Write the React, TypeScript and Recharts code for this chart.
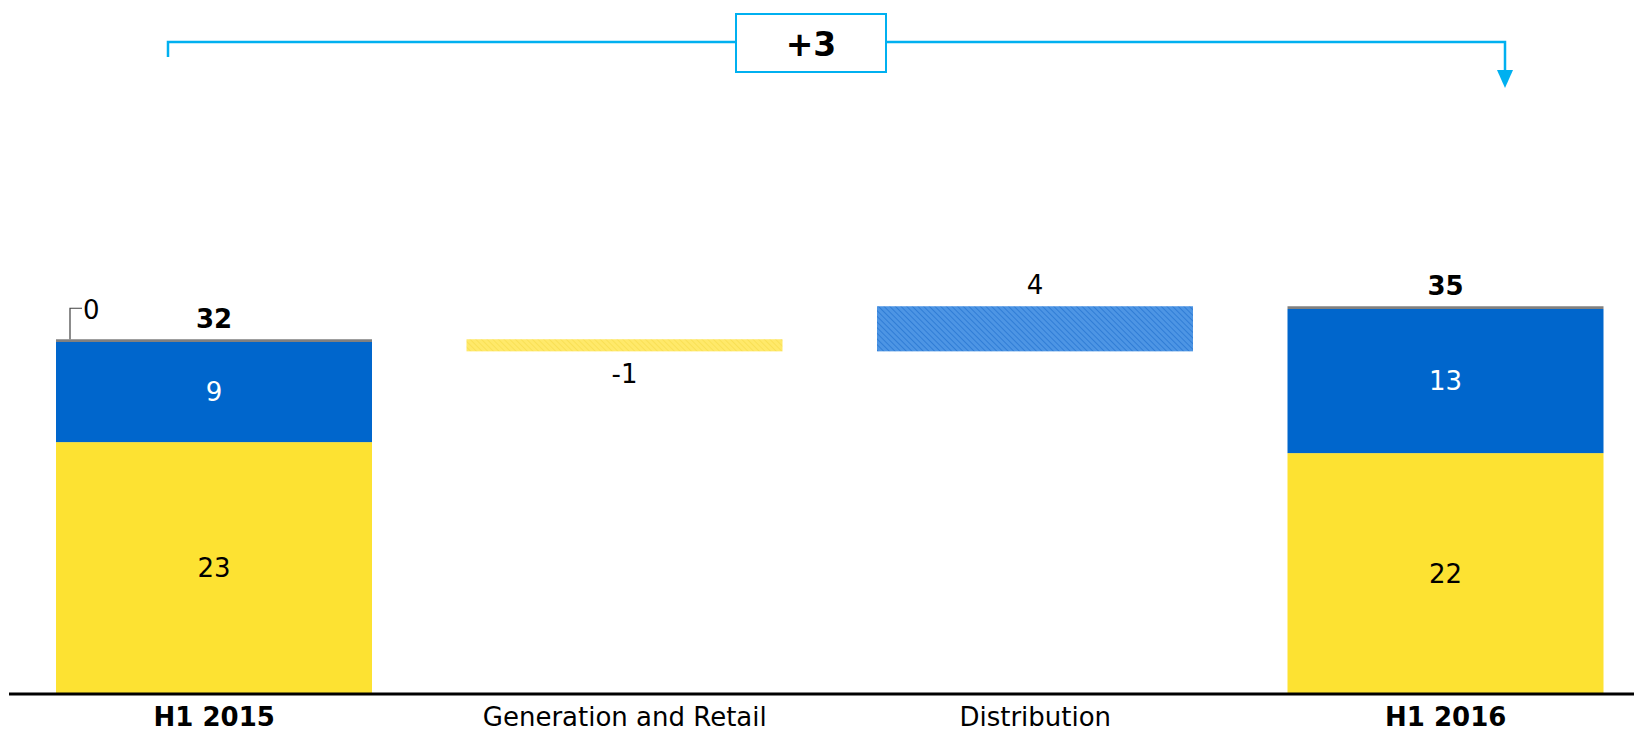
import { BarChart, Bar, XAxis, YAxis } from 'recharts';

// values
const categories = ['H1 2015', 'Generation and Retail', 'Distribution', 'H1 2016'];
const generationRetail = [22.9, 0, 0, 21.9];
const distribution = [9.1, 0, 0, 13.1];
const other = [0.25, 0, 0, 0.25];
const changes = [0, -1.1, 4.1, 0];
const isTotal = [true, false, false, true];

const FONT = '"DejaVu Sans", Verdana, sans-serif';
const YELLOW = '#FDE232';
const BLUE = '#0066CC';
const GREY = '#808080';
const CYAN = '#00B0F0';

// build waterfall rows
let running = 0;
const chartData = categories.map((name, i) => {
  if (isTotal[i]) {
    running = generationRetail[i] + distribution[i] + other[i];
    return { name, base: 0, gen: generationRetail[i], dist: distribution[i], other: other[i], delta: 0, change: 0, total: running };
  }
  const start = running;
  running = start + changes[i];
  return { name, base: Math.min(start, running), gen: 0, dist: 0, other: 0, delta: Math.abs(changes[i]), change: changes[i], total: running };
});

const firstTotal = chartData[0].total;
const lastTotal = chartData[chartData.length - 1].total;
const overall = Math.round(lastTotal - firstTotal);

// segment with its value written in the middle
const segmentShape = (key: string, color: string, textColor: string) => (props: any) => {
  const { x, y, width, height, payload } = props;
  if (!payload || !payload[key]) return <g />;
  return (
    <g>
      <rect x={x} y={y} width={width} height={height} fill={color} />
      <text x={x + width / 2} y={y + height / 2} dy="0.36em" textAnchor="middle" fill={textColor} fontSize={26} fontFamily={FONT}>
        {Math.round(payload[key])}
      </text>
    </g>
  );
};

// thin grey cap + total label (+ leader label for the first bar)
const OtherShape = (props: any) => {
  const { x, y, width, height, payload, index } = props;
  if (!payload || !payload.other) return <g />;
  return (
    <g>
      <rect x={x} y={y} width={width} height={height} fill={GREY} />
      {index === 0 && (
        <g>
          <polyline points={`${x + 14},${y} ${x + 14},${y - 31} ${x + 26},${y - 31}`} fill="none" stroke="#404040" strokeWidth={1.2} />
          <text x={x + 27} y={y - 20} fill="#000" fontSize={26} fontFamily={FONT}>{Math.round(payload.other)}</text>
        </g>
      )}
      <text x={x + width / 2} y={y - 11} textAnchor="middle" fill="#000" fontSize={26} fontWeight="bold" fontFamily={FONT}>
        {Math.round(payload.total)}
      </text>
    </g>
  );
};

const DeltaShape = (props: any) => {
  const { x, y, width, height, payload, index } = props;
  if (!payload || !payload.delta) return <g />;
  const fill = index === 1 ? 'url(#hatchYellow)' : 'url(#hatchBlue)';
  const neg = payload.change < 0;
  return (
    <g>
      <rect x={x} y={y} width={width} height={height} fill={fill} />
      <text x={x + width / 2} y={neg ? y + height + 32 : y - 12} textAnchor="middle" fill="#000" fontSize={26} fontFamily={FONT}>
        {Math.round(payload.change)}
      </text>
    </g>
  );
};

const CategoryTick = (props: any) => {
  const { x, y, payload } = props;
  const bold = isTotal[payload.index];
  return (
    <text x={x} y={y + 32} textAnchor="middle" fill="#000" fontSize={26} fontWeight={bold ? 'bold' : 'normal'} fontFamily={FONT}>
      {payload.value}
    </text>
  );
};

const App = () => {
  return (
    <div style={{ position: 'absolute', left: 0, top: 0, width: 1634, height: 733, overflow: 'hidden', background: '#fff' }}>
      <BarChart width={1651} height={733} data={chartData} margin={{ top: 34, right: 0, left: 9, bottom: 0 }} barSize={316}>
        <defs>
          <pattern id="hatchYellow" width="4" height="4" patternUnits="userSpaceOnUse" patternTransform="rotate(-45)">
            <rect width="4" height="4" fill="#FFE96A" />
            <line x1="0" y1="0" x2="0" y2="4" stroke="#F8DE4E" strokeWidth="1.5" />
          </pattern>
          <pattern id="hatchBlue" width="4" height="4" patternUnits="userSpaceOnUse" patternTransform="rotate(-45)">
            <rect width="4" height="4" fill="#4D95E4" />
            <line x1="0" y1="0" x2="0" y2="4" stroke="#2675D2" strokeWidth="1.5" />
          </pattern>
        </defs>
        <XAxis
          dataKey="name"
          interval={0}
          height={39}
          tickLine={false}
          tickSize={0}
          tickMargin={0}
          axisLine={{ stroke: '#000', strokeWidth: 3 }}
          tick={CategoryTick}
        />
        <YAxis hide domain={[0, 60]} />
        <Bar dataKey="base" stackId="a" fill="transparent" isAnimationActive={false} />
        <Bar dataKey="gen" stackId="a" fill={YELLOW} shape={segmentShape('gen', YELLOW, '#000')} isAnimationActive={false} />
        <Bar dataKey="dist" stackId="a" fill={BLUE} shape={segmentShape('dist', BLUE, '#fff')} isAnimationActive={false} />
        <Bar dataKey="other" stackId="a" fill={GREY} shape={OtherShape} isAnimationActive={false} />
        <Bar dataKey="delta" stackId="a" fill={YELLOW} shape={DeltaShape} isAnimationActive={false} />
      </BarChart>

      {/* overall change bracket */}
      <svg width={1634} height={100} style={{ position: 'absolute', left: 0, top: 0, pointerEvents: 'none' }}>
        <polyline points="168,57 168,42 736,42" fill="none" stroke={CYAN} strokeWidth={2.5} />
        <polyline points="886,42 1505,42 1505,73" fill="none" stroke={CYAN} strokeWidth={2.5} />
        <polygon points="1497,70 1513,70 1505,88" fill={CYAN} />
        <rect x={736} y={14} width={150} height={58} fill="#fff" stroke={CYAN} strokeWidth={2} />
        <text x={811} y={56} textAnchor="middle" fill="#000" fontSize={33} fontWeight="bold" fontFamily={FONT}>
          {overall > 0 ? `+${overall}` : `${overall}`}
        </text>
      </svg>
    </div>
  );
};

export default App;
